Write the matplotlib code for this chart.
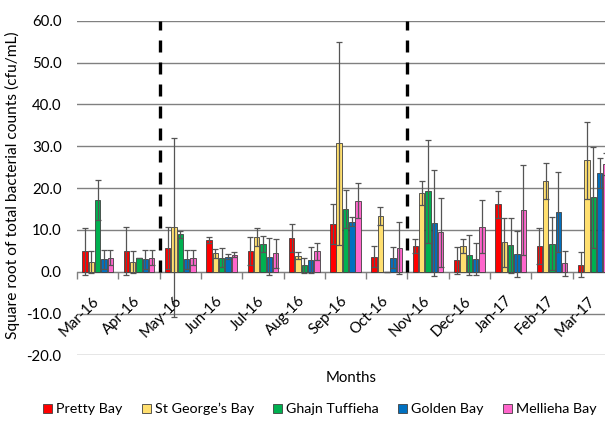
import numpy as np
import matplotlib
matplotlib.use("Agg")
import matplotlib.pyplot as plt
import matplotlib.transforms as mtransforms
from matplotlib.patches import Patch

plt.rcParams['font.family'] = ['Lato', 'DejaVu Sans']

# months on the category axis
months = ['Mar-16', 'Apr-16', 'May-16', 'Jun-16', 'Jul-16', 'Aug-16', 'Sep-16',
          'Oct-16', 'Nov-16', 'Dec-16', 'Jan-17', 'Feb-17', 'Mar-17']

# sqrt of bacterial counts per bay, with error (+/-)
pretty = [4.9, 5.0, 5.7, 7.5, 5.0, 8.1, 11.5, 3.6, 6.1, 2.7, 16.1, 6.1, 1.7]
pretty_err = [5.6, 5.8, 5.0, 0.7, 3.3, 3.3, 4.8, 2.5, 1.7, 3.2, 3.3, 4.3, 3.0]

stgeorge = [2.3, 2.3, 10.6, 4.4, 8.3, 3.8, 30.7, 13.3, 18.9, 6.1, 7.0, 21.7, 26.7]
stgeorge_err = [2.6, 2.6, 21.4, 1.0, 2.1, 0.8, 24.2, 2.2, 2.9, 1.7, 5.8, 4.4, 9.2]

ghajn = [17.1, 3.2, 8.9, 3.4, 6.6, 1.6, 15.0, 0.0, 19.2, 3.9, 6.3, 6.7, 17.8]
ghajn_err = [4.8, 0.0, 0.9, 2.2, 1.9, 1.8, 4.5, 0.0, 12.3, 4.8, 6.5, 6.4, 12.1]

golden = [3.0, 3.0, 3.0, 3.6, 3.6, 2.8, 12.0, 3.4, 11.6, 3.0, 4.2, 14.3, 23.6]
golden_err = [2.3, 2.3, 2.3, 0.6, 4.5, 3.1, 1.1, 2.4, 12.7, 3.9, 5.5, 9.5, 3.5]

mellieha = [3.4, 3.4, 3.4, 4.1, 4.4, 4.9, 17.0, 5.7, 9.4, 10.8, 14.8, 2.0, 25.8]
mellieha_err = [1.8, 1.8, 1.8, 0.6, 3.5, 2.0, 4.2, 6.3, 8.2, 6.3, 10.8, 3.0, 2.6]

names = ['Pretty Bay', 'St George\u2019s Bay', 'Ghajn Tuffieha', 'Golden Bay', 'Mellieha Bay']
colors = ['#FF0000', '#FFDF6F', '#00B050', '#0070C0', '#FF66CC']
series = [(pretty, pretty_err), (stgeorge, stgeorge_err), (ghajn, ghajn_err),
          (golden, golden_err), (mellieha, mellieha_err)]

fig = plt.figure(figsize=(6.05, 4.21), dpi=100)
ax = fig.add_axes([77 / 605, 1 - 355.4 / 421, 537 / 605, (355.4 - 20.7) / 421])

x = np.arange(len(months))
step = 0.153
width = 0.13
for k, ((vals, errs), c, name) in enumerate(zip(series, colors, names)):
    pos = x + (k - 2) * step
    ax.bar(pos, vals, width, color=c, edgecolor='#404040', linewidth=0.6,
           label=name, zorder=3)
    ax.errorbar(pos, vals, yerr=errs, fmt='none', ecolor='#555555',
                elinewidth=0.9, capsize=2.5, capthick=0.9, zorder=4)

# dashed separators
for b in [1.5, 7.5]:
    ax.plot([b, b], [0, 60], color='black', lw=2.4,
            linestyle=(0, (3.6, 3.0)), zorder=5)

ax.set_xlim(-0.5, len(months) - 0.5)
ax.set_ylim(-20, 60)
ax.set_yticks(np.arange(-20, 61, 10))
ax.set_yticklabels(['%.1f' % v for v in np.arange(-20, 61, 10)], fontsize=10.8)
ax.yaxis.grid(True, color='#808080', linewidth=1.0, zorder=0)
ax.set_axisbelow(True)
ax.tick_params(axis='y', length=0, pad=11)

for s in ['top', 'right', 'left']:
    ax.spines[s].set_visible(False)
ax.spines['bottom'].set_position(('data', 0))
ax.spines['bottom'].set_color('#808080')
ax.spines['bottom'].set_zorder(2)

# month labels, rotated, hung below the zero line
ax.set_xticks(np.arange(-0.5, len(months), 1))
ax.set_xticklabels([])
ax.tick_params(axis='x', length=5, color='#808080', width=1)
off = mtransforms.offset_copy(ax.transData, fig=fig, x=4, y=-22, units='dots')
for i, m in enumerate(months):
    ax.text(i, 0, m, transform=off, rotation=45, ha='right', va='top',
            fontsize=10.8, zorder=6)

fig.text(351 / 605, 1 - 378 / 421, 'Months', ha='center', va='center', fontsize=10.8)
fig.text(12 / 605, 1 - 185 / 421, 'Square root of total bacterial counts (cfu/mL)',
         rotation=90, ha='center', va='center', fontsize=11.2)

handles = [Patch(facecolor=c, edgecolor='#404040', linewidth=0.6) for c in colors]
fig.legend(handles, names, loc='center', bbox_to_anchor=(320 / 605, 1 - 409 / 421),
           ncol=5, frameon=False, fontsize=10.3, handlelength=0.6, handleheight=0.6,
           handletextpad=0.3, columnspacing=1.35)

fig.savefig('out.png', dpi=100)
